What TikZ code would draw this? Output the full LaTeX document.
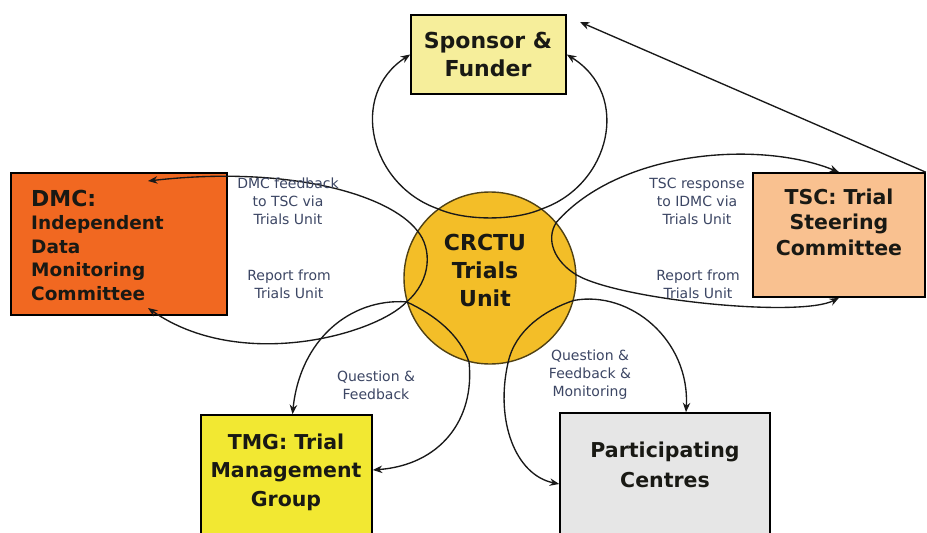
\documentclass[tikz,border=0pt]{standalone}
\usepackage{fontspec}
\setmainfont{DejaVu Sans}
\usetikzlibrary{arrows.meta}
\definecolor{spc}{RGB}{246,238,155}
\definecolor{dmcc}{RGB}{241,104,33}
\definecolor{tscc}{RGB}{249,193,144}
\definecolor{tmgc}{RGB}{242,232,50}
\definecolor{pcc}{RGB}{230,230,230}
\definecolor{circc}{RGB}{243,190,40}
\definecolor{circb}{RGB}{80,65,20}
\definecolor{lblc}{RGB}{60,70,100}
\definecolor{txtc}{RGB}{25,25,20}
\begin{document}
\begin{tikzpicture}[x=1pt,y=-1pt,
  box/.style={draw=black, line width=1.6pt, inner sep=0pt},
  title/.style={font=\bfseries\fontsize{20.5}{25.5}\selectfont, align=center, text=txtc, inner sep=0pt},
  lbl/.style={font=\fontsize{14}{18}\selectfont, align=center, text=lblc, inner sep=0pt},
  conn/.style={draw=black!90, line width=1.35pt,
    {Stealth[length=9.5pt,width=7.5pt]}-{Stealth[length=9.5pt,width=7.5pt]}},
  single/.style={draw=black!90, line width=1.35pt, -{Stealth[length=9.5pt,width=7.5pt]}},
]
\useasboundingbox[fill=white] (0,0) rectangle (927,533);

% boxes
\node[box, fill=spc, minimum width=155pt, minimum height=79pt] (sp) at (488.5,54.5) {};
\node[box, fill=dmcc, minimum width=216pt, minimum height=142pt] (dmc) at (119,244) {};
\node[box, fill=tscc, minimum width=172pt, minimum height=124pt] (tsc) at (839,235) {};
\node[box, fill=tmgc, minimum width=171pt, minimum height=132pt] (tmg) at (286.5,481) {};
\node[box, fill=pcc, minimum width=210pt, minimum height=134pt] (pc) at (665,480) {};
\node[circle, draw=circb, line width=1.4pt, fill=circc, minimum size=172pt, inner sep=0pt] (cu) at (490,278) {};

% box texts
\node[title, font=\bfseries\fontsize{22}{28}\selectfont] (spT) at (488,54) {Sponsor \&\\Funder};
\node[title] (tscT) at (839,222) {TSC: Trial\\Steering\\Committee};
\node[title, font=\bfseries\fontsize{20.5}{28.5}\selectfont] (tmgT) at (286,472) {TMG: Trial\\Management\\Group};
\node[title, font=\bfseries\fontsize{20.5}{30}\selectfont] (pcT) at (665,465) {Participating\\Centres};
\node[title, font=\bfseries\fontsize{22}{28}\selectfont] (cuT) at (485,270) {CRCTU\\Trials\\Unit};
\node[title, anchor=west, font=\bfseries\fontsize{22}{26}\selectfont] (dmcH) at (31,198) {DMC:};
\node[title, anchor=west, align=left, font=\bfseries\fontsize{18.5}{23.7}\selectfont] (dmcB) at (31,258) {Independent\\Data\\Monitoring\\Committee};

% connector end points
\coordinate (dmcA) at (148,181);
\coordinate (dmcZ) at (148,308);
\coordinate (spA) at (580,22);

% connectors
\draw[conn] (sp.west) .. controls (348,95) and (370,185) .. (cu.127)
  .. controls (465,221) and (515,221) .. (cu.53)
  .. controls (610,185) and (632,95) .. (sp.east);
\draw[conn] (dmcA) .. controls (290,165) and (390,195) .. (cu.147)
  .. controls (432,248) and (432,280) .. (cu.196)
  .. controls (375,335) and (240,372) .. (dmcZ);
\draw[conn] ([xshift=6pt]tmg.north) .. controls (300,340) and (350,298) .. (cu.196)
  .. controls (435,315) and (460,335) .. (cu.256)
  .. controls (475,420) and (440,465) .. ([yshift=11pt]tmg.east);
\draw[conn] ([xshift=21pt]pc.north) .. controls (690,340) and (630,290) .. (cu.345)
  .. controls (545,310) and (515,330) .. (cu.282)
  .. controls (495,420) and (515,475) .. ([yshift=-4pt]pc.west);
\draw[conn] (tsc.north) .. controls (760,140) and (620,150) .. (cu.40)
  .. controls (545,240) and (555,262) .. (cu.2)
  .. controls (620,300) and (800,318) .. (tsc.south);
\draw[single] (tsc.north east) -- (spA);

% labels
\node[lbl] (l1) at (288,201) {DMC feedback\\to TSC via\\Trials Unit};
\node[lbl] (l2) at (289,284) {Report from\\Trials Unit};
\node[lbl] (l3) at (697,201) {TSC response\\to IDMC via\\Trials Unit};
\node[lbl] (l4) at (698,284) {Report from\\Trials Unit};
\node[lbl] (l5) at (376,385) {Question \&\\Feedback};
\node[lbl] (l6) at (590,375) {Question \&\\Feedback \&\\Monitoring};
\end{tikzpicture}
\end{document}
